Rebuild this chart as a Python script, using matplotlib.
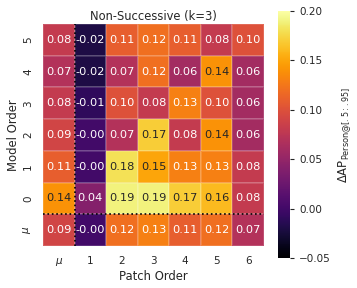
import matplotlib
matplotlib.use("Agg")
import matplotlib.pyplot as plt
import seaborn as sns
import numpy as np

row_labels = ["5", "4", "3", "2", "1", "0", r"$\mu$"]
col_labels = [r"$\mu$", "1", "2", "3", "4", "5", "6"]
values = [
    [0.08, -0.02, 0.11, 0.12, 0.11, 0.08, 0.10],
    [0.07, -0.02, 0.07, 0.12, 0.06, 0.14, 0.06],
    [0.08, -0.01, 0.10, 0.08, 0.13, 0.10, 0.06],
    [0.09, -0.00, 0.07, 0.17, 0.08, 0.14, 0.06],
    [0.11, -0.00, 0.18, 0.15, 0.13, 0.13, 0.08],
    [0.14, 0.04, 0.19, 0.19, 0.17, 0.16, 0.08],
    [0.09, -0.00, 0.12, 0.13, 0.11, 0.12, 0.07],
]
cbar_ticks = [-0.05, 0.0, 0.05, 0.10, 0.15, 0.20]

sns.set_theme(style="white", context="paper")
plt.rcParams['font.family'] = ['DejaVu Sans']

W, H = 357, 288
fig = plt.figure(figsize=(W / 100, H / 100), dpi=100)
ax = fig.add_axes([43 / W, (H - 246) / H, 221 / W, 222 / H])
cax = fig.add_axes([278 / W, (H - 258) / H, 12 / W, 247 / H])
data = np.array(values)
sns.heatmap(data, ax=ax, cbar_ax=cax, cmap="inferno", vmin=-0.05, vmax=0.2,
            annot=True, fmt=".2f", square=False, linewidths=0.3, linecolor=(1, 1, 1, 0.15),
            annot_kws={"fontsize": 8.2},
            xticklabels=col_labels, yticklabels=row_labels,
            cbar_kws={"ticks": cbar_ticks})
ax.axvline(1, color="black", linestyle=":", linewidth=1.2)
ax.axhline(6, color="black", linestyle=":", linewidth=1.2)
ax.set_title("Non-Successive (k=3)", fontsize=8.3, pad=3)
ax.set_xlabel("Patch Order", fontsize=8.4, labelpad=2)
ax.set_ylabel("Model Order", fontsize=8.4, labelpad=1)
ax.tick_params(axis="both", labelsize=7.5, length=0, pad=7)
plt.setp(ax.get_yticklabels(), rotation=90, va="center")
plt.setp(ax.get_xticklabels(), rotation=0)
cax.tick_params(labelsize=7.5, length=3, width=0.8)
cax.yaxis.set_major_formatter(matplotlib.ticker.FuncFormatter(
    lambda v, p: f"{v:.2f}".replace("-", "\u2212")))
cax.set_ylabel(r"$\Delta$AP$_{\mathrm{Person@[.5:.95]}}$", fontsize=8.4)
fig.savefig("out.png", dpi=100)
